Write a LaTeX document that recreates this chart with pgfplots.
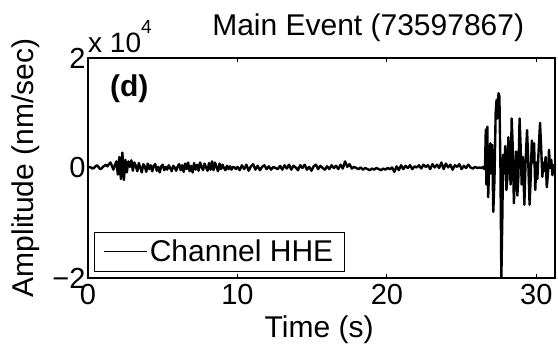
\documentclass[border=0pt]{standalone}
\usepackage{fontspec}
\setmainfont{Liberation Sans}
\usepackage{pgfplots}
\pgfplotsset{compat=1.18}
\usetikzlibrary{calc}
\begin{document}
\begin{tikzpicture}
\begin{axis}[
  scale only axis, width=467pt, height=220pt,
  xmin=0, xmax=31.25, ymin=-2, ymax=2,
  xtick={0,10,20,30}, ytick={-2,0,2}, yticklabels={−2,0,2},
  /pgf/number format/assume math mode=true,
  tick align=inside, major tick length=4pt,
  axis line style={line width=1.3pt},
  tick style={line width=1pt, black},
  ticklabel style={font=\fontsize{29}{30}\selectfont},
  xticklabel style={yshift=-3pt},
  yticklabel style={xshift=1pt},
  xlabel={Time (s)}, ylabel={Amplitude (nm/sec)},
  every axis x label/.style={at={(axis description cs:0.495,-0.2727)}, anchor=base, font=\fontsize{30}{32}\selectfont},
  every axis y label/.style={at={(axis description cs:-0.133,0.5)}, rotate=90, anchor=center, font=\fontsize{30}{32}\selectfont},
  legend style={at={(axis description cs:0.0128,0.027)}, anchor=south west, draw=black, line width=1.3pt, font=\fontsize{30}{30}\selectfont, inner xsep=9pt, inner ysep=6pt},
  legend image code/.code={\draw[#1, line width=1.2pt] (0pt,0pt) -- (43pt,0pt);},
  clip mode=individual,
]
\addplot[black, line width=2.4pt, line join=round] coordinates {
(0.0,0.01) (0.1,0.02) (0.2,0.01) (0.3,-0.01) (0.4,0.00) (0.5,0.03) (0.6,0.05) (0.7,0.02) (0.8,-0.02) (0.9,-0.01)
(1.0,0.02) (1.1,0.04) (1.2,0.06) (1.3,0.03) (1.4,0.07) (1.5,0.10) (1.6,0.04) (1.7,-0.03) (1.8,0.05) (1.9,0.12)
(2.0,-0.12) (2.1,0.20) (2.2,-0.20) (2.3,0.28) (2.4,-0.22) (2.5,0.15) (2.6,-0.08) (2.7,0.12) (2.8,0.02) (2.9,0.14)
(3.0,-0.05) (3.1,0.10) (3.2,0.04) (3.3,-0.06) (3.4,0.09) (3.5,0.01) (3.6,-0.08) (3.7,0.07) (3.8,0.03) (3.9,-0.07)
(4.0,0.08) (4.1,-0.02) (4.2,0.05) (4.3,-0.06) (4.4,0.04) (4.5,0.07) (4.6,-0.05) (4.7,0.02) (4.8,-0.08) (4.9,0.03)
(5.0,0.06) (5.1,-0.04) (5.2,0.02) (5.3,-0.03) (5.4,0.05) (5.5,0.00) (5.6,-0.06) (5.7,0.04) (5.8,0.01) (5.9,-0.05)
(6.0,0.03) (6.1,0.07) (6.2,-0.04) (6.3,0.05) (6.4,-0.07) (6.5,0.08) (6.6,-0.02) (6.7,0.10) (6.8,-0.06) (6.9,0.04)
(7.0,-0.08) (7.1,0.09) (7.2,-0.03) (7.3,0.06) (7.4,-0.05) (7.5,0.10) (7.6,0.02) (7.7,-0.04) (7.8,0.08) (7.9,0.01)
(8.0,-0.05) (8.1,0.09) (8.2,-0.03) (8.3,0.12) (8.4,-0.04) (8.5,0.10) (8.6,0.02) (8.7,-0.06) (8.8,0.08) (8.9,-0.02)
(9.0,0.06) (9.1,0.00) (9.2,-0.04) (9.3,0.04) (9.4,-0.02) (9.5,0.03) (9.6,-0.03) (9.7,0.02) (9.8,0.01) (9.9,-0.02)
(10.00,0.02) (10.15,-0.04) (10.30,0.05) (10.45,-0.02) (10.60,0.06) (10.75,-0.05) (10.90,0.03) (11.05,0.07) (11.20,-0.03) (11.35,0.04)
(11.50,-0.04) (11.65,0.02) (11.80,0.05) (11.95,-0.02) (12.10,0.03) (12.25,-0.03) (12.40,0.02) (12.55,0.00) (12.70,-0.02) (12.85,0.04)
(13.00,-0.03) (13.15,0.05) (13.30,-0.01) (13.45,0.06) (13.60,-0.03) (13.75,0.04) (13.90,0.01) (14.05,-0.04) (14.20,0.05) (14.35,0.00)
(14.50,0.06) (14.65,-0.03) (14.80,0.02) (14.95,-0.05) (15.10,0.03) (15.25,0.06) (15.40,-0.02) (15.55,0.04) (15.70,0.00) (15.85,-0.03)
(16.00,0.03) (16.15,-0.02) (16.30,0.05) (16.45,0.00) (16.60,0.04) (16.75,-0.02) (16.90,0.06) (17.05,-0.01) (17.20,0.12) (17.35,0.02)
(17.50,0.07) (17.65,-0.01) (17.80,0.02) (17.95,0.00) (18.10,-0.02) (18.25,0.01) (18.40,-0.03) (18.55,0.00) (18.70,-0.02) (18.85,-0.04)
(19.00,-0.01) (19.15,-0.03) (19.30,0.00) (19.45,-0.02) (19.60,-0.04) (19.75,-0.01) (19.90,-0.03) (20.05,0.00) (20.20,-0.02) (20.35,0.01)
(20.50,-0.07) (20.65,0.03) (20.80,-0.04) (20.95,0.05) (21.10,-0.02) (21.25,0.04) (21.40,0.00) (21.55,0.05) (21.70,-0.02) (21.85,0.03)
(22.00,0.01) (22.15,0.05) (22.30,-0.01) (22.45,0.06) (22.60,0.02) (22.75,0.05) (22.90,-0.02) (23.05,0.07) (23.20,0.01) (23.35,0.06)
(23.50,0.00) (23.65,0.10) (23.80,-0.02) (23.95,0.08) (24.10,0.01) (24.25,0.06) (24.40,-0.03) (24.55,0.05) (24.70,0.02) (24.85,0.07)
(25.00,-0.02) (25.15,0.04) (25.30,0.00) (25.45,0.06) (25.60,0.01) (25.75,-0.01) (25.90,0.02) (26.05,0.00) (26.20,0.01) (26.35,0.00)
(26.45,0.02) (26.52,-0.02) (26.57,0.05) (26.62,0.70) (26.66,-0.30) (26.72,0.75) (26.78,-0.53) (26.85,0.10) (26.92,0.45) (26.98,-0.10)
(27.05,0.42) (27.12,-0.80) (27.20,-0.20) (27.28,1.00) (27.34,1.24) (27.40,0.90) (27.47,1.36) (27.53,1.30) (27.60,0.00) (27.66,-2.00)
(27.72,-1.00) (27.78,0.24) (27.85,-0.10) (27.92,0.40) (28.00,-0.40) (28.06,-0.20) (28.13,0.56) (28.20,0.20) (28.28,-0.30) (28.35,0.90)
(28.42,0.40) (28.50,-0.64) (28.57,-0.10) (28.65,0.30) (28.73,-0.50) (28.80,-0.16) (28.88,0.90) (28.95,0.40) (29.02,-0.30) (29.10,0.20)
(29.20,-0.67) (29.28,0.10) (29.38,0.69) (29.45,0.20) (29.55,-0.67) (29.62,-0.20) (29.70,0.50) (29.78,0.10) (29.85,0.45) (29.93,-0.40)
(30.00,0.10) (30.07,-0.20) (30.15,0.30) (30.25,0.82) (30.32,0.40) (30.40,-0.16) (30.48,0.10) (30.55,-0.05) (30.62,0.20) (30.70,-0.35)
(30.78,-0.10) (30.85,0.33) (30.92,0.00) (31.00,0.15) (31.08,-0.13) (31.15,0.05) (31.25,0.00)
};
\addlegendentry{Channel HHE}
\node[anchor=base, font=\fontsize{30}{30}\selectfont] at (axis description cs:0.6,1.1045) {Main Event (73597867)};
\node[anchor=base west, font=\fontsize{28}{28}\selectfont, inner sep=0pt] at (axis description cs:0,1.027) {x 10\raisebox{19pt}{\fontsize{19}{19}\selectfont 4}};
\node[anchor=base west, font=\fontsize{30}{30}\selectfont\bfseries, inner sep=0pt] at (axis description cs:0.047,0.823) {(d)};
\end{axis}
\pgfresetboundingbox
\path[use as bounding box] ($(current axis.south west)+(-88pt,-69pt)$) rectangle ($(current axis.north east)+(3pt,58pt)$);
\end{tikzpicture}
\end{document}
